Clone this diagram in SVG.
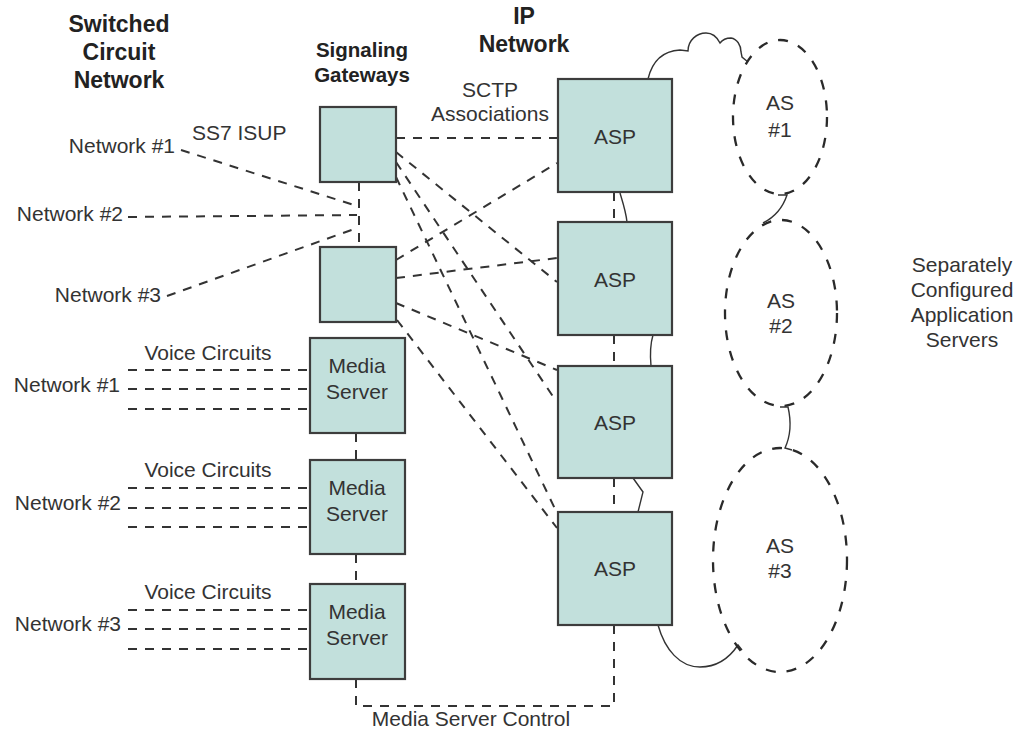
<svg xmlns="http://www.w3.org/2000/svg" width="1024" height="733" viewBox="0 0 1024 733">
  <style>
    .box { fill: #c2e0dc; stroke: #3d3d3d; stroke-width: 2.2; }
    .t { font-family: "Liberation Sans", Arial, sans-serif; font-size: 21px; fill: #333; }
    .c { text-anchor: middle; }
    .r { text-anchor: end; }
    .h { font-family: "Liberation Sans", Arial, sans-serif; font-weight: bold; fill: #222; text-anchor: middle; }
    .dash { fill: none; stroke: #333; stroke-width: 2; stroke-dasharray: 9 8; }
    .ring { fill: none; stroke: #2a2a2a; stroke-width: 2.3; stroke-dasharray: 10 11; }
    .wire { fill: none; stroke: #333; stroke-width: 1.4; }
  </style>

  <rect width="1024" height="733" fill="#ffffff"/>

  <!-- column headings -->
  <g id="headings">
    <text class="h" x="119" y="32" font-size="23">Switched</text>
    <text class="h" x="119" y="60" font-size="23">Circuit</text>
    <text class="h" x="119" y="88" font-size="23">Network</text>
    <text class="h" x="362" y="57" font-size="20.5">Signaling</text>
    <text class="h" x="362" y="82" font-size="20.5">Gateways</text>
    <text class="h" x="524" y="24" font-size="23">IP</text>
    <text class="h" x="524" y="52" font-size="23">Network</text>
  </g>

  <!-- connectors -->
  <g id="connectors">
    <!-- SS7 ISUP links into the gateway pair -->
    <path class="dash" d="M181,150 L357,206"/>
    <path class="dash" d="M128,217 L357,215"/>
    <path class="dash" d="M167,296 L357,228"/>
    <path class="dash" d="M359,182 L359,247"/>

    <!-- SCTP associations from gateway 1 -->
    <path class="dash" d="M396,138 L558,138"/>
    <path class="dash" d="M396,152 L557,282"/>
    <path class="dash" d="M396,162 L556,401"/>
    <path class="dash" d="M396,177 L557,513"/>

    <!-- SCTP associations from gateway 2 -->
    <path class="dash" d="M396,260 L557,163"/>
    <path class="dash" d="M396,278 L557,258"/>
    <path class="dash" d="M396,303 L557,370"/>
    <path class="dash" d="M397,320 L557,528"/>

    <!-- voice circuit trunks -->
    <path class="dash" d="M128,370 L308,370 M128,389 L308,389 M128,409 L308,409"/>
    <path class="dash" d="M128,488 L308,488 M128,508 L308,508 M128,527 L308,527"/>
    <path class="dash" d="M128,610 L308,610 M128,629 L308,629 M128,649 L308,649"/>

    <!-- media server chain and control path -->
    <path class="dash" d="M356,433 L356,460"/>
    <path class="dash" d="M356,554 L356,584"/>
    <path class="dash" d="M356,679 L356,706 L614,706 L614,625"/>

    <!-- ASP chain -->
    <path class="dash" d="M614,192 L614,222"/>
    <path class="dash" d="M614,335 L614,366"/>
    <path class="dash" d="M614,478 L614,512"/>

    <!-- solid application server membership wires -->
    <path class="wire" d="M648,79 C652,62 662,51 680,50 L688,51 C688,40 697,33 706,33 C712,33 717,37 720,43 C723,39 727,38 731,38 C737,39 741,45 741,52 L742,57 L748,62"/>
    <path class="wire" d="M620,193 C623,203 626,212 627,222"/>
    <path class="wire" d="M653,335 C650,345 650,355 651,366"/>
    <path class="wire" d="M633,478 L643,492 L638,512"/>
    <path class="wire" d="M778,195 L787,195 C783,207 775,217 763,223"/>
    <path class="wire" d="M780,407 L788,407 C791,420 791,435 785,448 L792,450"/>
    <path class="wire" d="M658,625 C665,650 680,667 700,667 C718,667 730,657 738,645 L742,650"/>
  </g>

  <!-- connector labels -->
  <g id="labels">
    <text class="t r" x="175" y="153">Network #1</text>
    <text class="t r" x="123" y="221">Network #2</text>
    <text class="t r" x="161" y="302">Network #3</text>
    <text class="t" x="192" y="140">SS7 ISUP</text>
    <text class="t c" x="490" y="97">SCTP</text>
    <text class="t c" x="490" y="121">Associations</text>
    <text class="t c" x="208" y="360">Voice Circuits</text>
    <text class="t c" x="208" y="477">Voice Circuits</text>
    <text class="t c" x="208" y="599">Voice Circuits</text>
    <text class="t r" x="120" y="392">Network #1</text>
    <text class="t r" x="121" y="510">Network #2</text>
    <text class="t r" x="121" y="631">Network #3</text>
    <text class="t c" x="471" y="726">Media Server Control</text>
  </g>

  <!-- signaling gateways -->
  <g id="sg1"><rect class="box" x="320" y="107" width="76" height="75"/></g>
  <g id="sg2"><rect class="box" x="320" y="247" width="76" height="75"/></g>

  <!-- media servers -->
  <g id="ms1">
    <rect class="box" x="310" y="338" width="95" height="95"/>
    <text class="t c" x="357" y="373">Media</text>
    <text class="t c" x="357" y="399">Server</text>
  </g>
  <g id="ms2">
    <rect class="box" x="310" y="460" width="95" height="94"/>
    <text class="t c" x="357" y="495">Media</text>
    <text class="t c" x="357" y="521">Server</text>
  </g>
  <g id="ms3">
    <rect class="box" x="310" y="584" width="95" height="95"/>
    <text class="t c" x="357" y="619">Media</text>
    <text class="t c" x="357" y="645">Server</text>
  </g>

  <!-- application server processes -->
  <g id="asp1">
    <rect class="box" x="558" y="79" width="114" height="113"/>
    <text class="t c" x="615" y="144">ASP</text>
  </g>
  <g id="asp2">
    <rect class="box" x="558" y="222" width="114" height="113"/>
    <text class="t c" x="615" y="287">ASP</text>
  </g>
  <g id="asp3">
    <rect class="box" x="558" y="366" width="114" height="112"/>
    <text class="t c" x="615" y="430">ASP</text>
  </g>
  <g id="asp4">
    <rect class="box" x="558" y="512" width="114" height="113"/>
    <text class="t c" x="615" y="576">ASP</text>
  </g>

  <!-- application servers -->
  <g id="as1">
    <ellipse class="ring" cx="780" cy="117" rx="47" ry="77"/>
    <text class="t c" x="780" y="110">AS</text>
    <text class="t c" x="780" y="137">#1</text>
  </g>
  <g id="as2">
    <ellipse class="ring" cx="781" cy="313" rx="56" ry="93"/>
    <text class="t c" x="781" y="308">AS</text>
    <text class="t c" x="781" y="333">#2</text>
  </g>
  <g id="as3">
    <ellipse class="ring" cx="780" cy="560" rx="67" ry="112"/>
    <text class="t c" x="780" y="553">AS</text>
    <text class="t c" x="780" y="578">#3</text>
  </g>

  <g id="as-note">
    <text class="t c" x="962" y="272">Separately</text>
    <text class="t c" x="962" y="297">Configured</text>
    <text class="t c" x="962" y="322">Application</text>
    <text class="t c" x="962" y="347">Servers</text>
  </g>
</svg>
